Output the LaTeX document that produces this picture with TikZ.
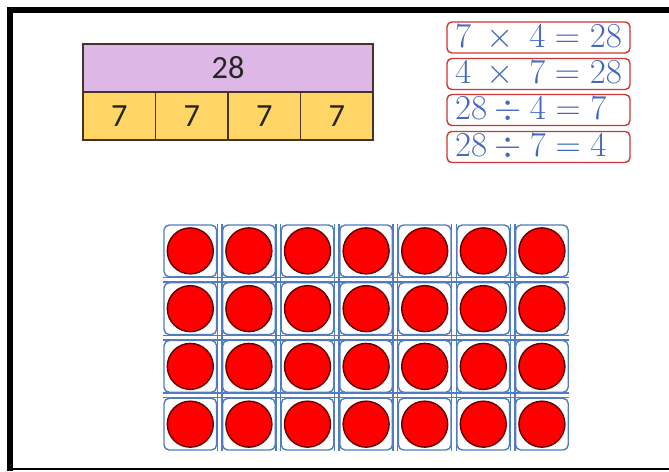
\documentclass[tikz,border=0pt]{standalone}
\usepackage{fontspec}
\usepackage{tikz}
\usetikzlibrary{positioning}
\newfontfamily\carlito{Carlito}

\definecolor{barpurple}{RGB}{221,183,230}
\definecolor{baryellow}{RGB}{255,214,102}
\definecolor{barline}{RGB}{70,52,40}
\definecolor{eqblue}{RGB}{68,106,190}
\definecolor{eqred}{RGB}{205,55,55}
\definecolor{gridblue}{RGB}{79,125,192}
\definecolor{counterred}{RGB}{255,0,0}
\definecolor{counterrim}{RGB}{100,0,0}

\begin{document}
\begin{tikzpicture}[
    barwhole/.style={draw=barline, line width=1.1pt, fill=barpurple, minimum width=7.25cm, minimum height=1.2cm, inner sep=0pt, font=\carlito\fontsize{23}{27}\selectfont, text=black!85},
    barpart/.style={draw=barline, line width=1.1pt, fill=baryellow, minimum width=1.8125cm, minimum height=1.2cm, inner sep=0pt, font=\carlito\fontsize{23}{27}\selectfont, text=black!85},
    eqbox/.style={draw=eqred, line width=1pt, rounded corners=1.2mm, text width=4.175cm, inner xsep=0.2cm, inner ysep=0pt, minimum height=0.775cm, align=left, text=eqblue, font=\Huge},
    cell/.style={draw=gridblue, line width=1pt, rounded corners=1.3mm, minimum width=1.315cm, minimum height=1.294cm, inner sep=0pt},
    gridline/.style={draw=gridblue, line width=1pt},
    counter/.style={circle, fill=counterred, draw=counterrim, line width=1pt, minimum size=1.15cm, inner sep=0pt}
]
\useasboundingbox (0,0) rectangle (16.725,11.775);
\fill[white] (0,0) rectangle (16.725,11.775);

% Frame (only the left, top and bottom edges fall inside the picture)
\draw[line width=0.15cm] (0.25,0) -- (0.25,11.525) -- (16.725,11.525);
\draw[line width=0.05cm] (0.25,0.05) -- (16.725,0.05);

% Bar model
\node[barwhole] (whole) at (5.7,10.075) {28};
\foreach \i in {1,...,4}
    \node[barpart] (part\i) at ({2.075+1.8125*(\i-0.5)},8.875) {7};

% Fact family
\node[eqbox] (eq1) at (13.4625,10.8375) {$7\;\times\;4 = 28$};
\node[eqbox] (eq2) at (13.4625,9.925) {$4\;\times\;7 = 28$};
\node[eqbox] (eq3) at (13.4625,9.025) {$28 \div 4 = 7$};
\node[eqbox] (eq4) at (13.4625,8.1) {$28 \div 7 = 4$};

% Array of counters
\foreach \col in {0,...,6}
    \foreach \row in {0,...,3}
        \node[cell] (cell-\row-\col) at ({4.7575+1.465*\col},{5.503-1.444*\row}) {};
\foreach \col in {0,...,5}
    \draw[gridline] (cell-0-\col.north east) -- (cell-3-\col.south east);
\foreach \col in {1,...,6}
    \draw[gridline] (cell-0-\col.north west) -- (cell-3-\col.south west);
\foreach \row in {0,...,2}
    \draw[gridline] (cell-\row-0.south west) -- (cell-\row-6.south east);
\foreach \row in {1,...,3}
    \draw[gridline] (cell-\row-0.north west) -- (cell-\row-6.north east);
\foreach \col in {0,...,6}
    \foreach \row in {0,...,3}
        \node[counter] (dot-\row-\col) at (cell-\row-\col) {};

\end{tikzpicture}
\end{document}
